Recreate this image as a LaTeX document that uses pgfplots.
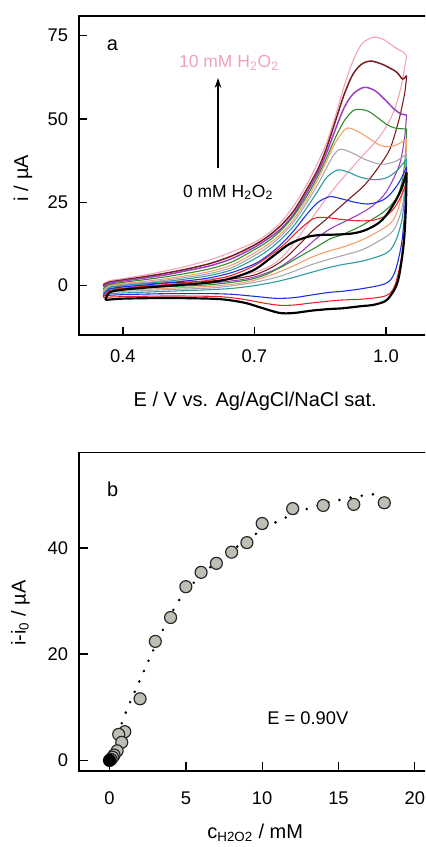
\documentclass[border=0pt]{standalone}
\usepackage{fontspec}
\setmainfont{Liberation Sans}
\usepackage{pgfplots}
\pgfplotsset{compat=1.18}
\usetikzlibrary{arrows.meta}

\definecolor{cvpink}{HTML}{F2A3B8}
\definecolor{cvmaroon}{HTML}{7B1C1C}
\definecolor{cvpurple}{HTML}{9A3FC0}
\definecolor{cvgreen}{HTML}{2E8B2E}
\definecolor{cvorange}{HTML}{F5A06A}
\definecolor{cvgray}{HTML}{A6A6B0}
\definecolor{cvteal}{HTML}{2A9A9E}
\definecolor{cvblue}{HTML}{1F2FE0}
\definecolor{cvred}{HTML}{E8262A}
\definecolor{dotfill}{HTML}{BEBEB4}

\newcommand{\TickFont}{\fontsize{11}{13}\selectfont}
\newcommand{\LabelFont}{\fontsize{12}{14}\selectfont}
\newcommand{\NoteFont}{\fontsize{10.5}{12.5}\selectfont}

\pgfplotsset{
  panel/.style={
    scale only axis,
    anchor=south west,
    font=\NoteFont,
    axis line style={line width=0.9pt},
    tick align=inside,
    xtick pos=bottom,
    ytick pos=left,
    major tick length=5pt,
    tick style={line width=0.8pt, black},
    tick label style={font=\TickFont},
    label style={font=\LabelFont},
    xticklabel style={yshift=-5pt},
    yticklabel style={xshift=-3pt},
    clip=false,
  },
  cv/.style={smooth, tension=0.5, line width=#1},
  cv/.default=0.65pt,
}

\begin{document}
\begin{tikzpicture}
\path[use as bounding box] (0,0) rectangle (255pt,508.2pt);
\clip (0,0) rectangle (255pt,508.2pt);

% ---------- panel a: cyclic voltammograms
\begin{axis}[
  panel,
  at={(47.4pt,307.2pt)},
  width=218.4pt,
  height=191.4pt,
  xmin=0.3, xmax=1.13,
  ymin=-14.8, ymax=80.9,
  xtick={0.4,0.7,1.0},
  xticklabels={0.4,0.7,1.0},
  ytick={0,25,50,75},
  yticklabels={0,25,50,75},
  xlabel={E / V vs. Ag/AgCl/NaCl sat.},
  ylabel={i / µA},
  xlabel style={at={(axis description cs:0.484,-0.207)}, anchor=center},
  ylabel style={at={(axis description cs:-0.154,0.492)}, anchor=center},
]
% pink, 10 mM
\addplot[cvpink, cv] coordinates {(0.355,0.5)(0.37,1.5)(0.40,2.1)(0.45,3.2)(0.50,4.5)(0.55,6.0)(0.60,7.8)(0.65,10.2)(0.70,13.0)(0.73,15.5)(0.76,19.0)(0.79,24.0)(0.82,30.5)(0.845,37.0)(0.865,43.0)(0.885,51.0)(0.905,60.0)(0.925,67.5)(0.945,72.5)(0.97,74.5)(0.995,73.8)(1.02,71.5)(1.04,70.0)(1.047,69.0)};
\addplot[cvpink, cv] coordinates {(1.047,69.0)(1.035,60)(1.02,53)(1.0,47.5)(0.975,43)(0.95,39.5)(0.92,35)(0.89,30.5)(0.86,25.5)(0.83,20)(0.80,14.5)(0.77,9.5)(0.74,6.2)(0.70,4.0)(0.65,2.7)(0.60,2.0)(0.50,1.2)(0.40,0.7)(0.355,0.5)};
% maroon
\addplot[cvmaroon, cv=0.9pt] coordinates {(0.355,0.2)(0.37,1.1)(0.40,1.7)(0.45,2.7)(0.50,3.8)(0.55,5.1)(0.60,6.7)(0.65,9.0)(0.70,12.2)(0.73,14.7)(0.76,18.0)(0.79,22.5)(0.82,29.0)(0.845,35.0)(0.865,41.5)(0.885,49.5)(0.905,57.5)(0.925,63.5)(0.945,66.5)(0.965,67.4)(0.99,66.5)(1.01,65.2)(1.025,64.0)(1.038,62.0)(1.047,63.0)};
\addplot[cvmaroon, cv] coordinates {(1.047,63.0)(1.043,58)(1.03,50)(1.009,41)(0.98,35)(0.95,30)(0.92,26.5)(0.89,23)(0.86,19.5)(0.833,16.5)(0.80,12)(0.77,8.2)(0.74,5.5)(0.70,3.2)(0.65,2.0)(0.60,1.4)(0.50,0.8)(0.40,0.4)(0.355,0.2)};
% purple
\addplot[cvpurple, cv=0.9pt] coordinates {(0.355,-0.3)(0.37,0.8)(0.40,1.4)(0.45,2.3)(0.50,3.3)(0.55,4.6)(0.60,6.0)(0.65,8.2)(0.70,11.5)(0.73,14.0)(0.76,17.0)(0.79,21.5)(0.82,28.0)(0.845,34.0)(0.865,40.0)(0.885,47.0)(0.905,53.5)(0.925,57.5)(0.95,59.5)(0.975,58.5)(1.0,55.5)(1.02,52.8)(1.035,51.5)(1.047,51.2)};
\addplot[cvpurple, cv] coordinates {(1.047,51.2)(1.042,44)(1.03,36)(1.0,28)(0.97,24)(0.94,21.5)(0.91,19.5)(0.872,17)(0.84,14)(0.81,10.5)(0.78,7.5)(0.75,5)(0.71,3)(0.67,1.8)(0.60,0.8)(0.50,0.2)(0.40,-0.2)(0.355,-0.3)};
% green
\addplot[cvgreen, cv] coordinates {(0.355,-1.0)(0.37,0.4)(0.40,1.0)(0.45,1.8)(0.50,2.7)(0.55,3.8)(0.60,5.1)(0.65,7.2)(0.70,10.8)(0.73,13.2)(0.76,16.5)(0.79,21.0)(0.82,27.0)(0.845,33.0)(0.865,38.5)(0.885,44.5)(0.905,49.5)(0.925,52.5)(0.94,52.9)(0.96,52.3)(0.98,50.5)(1.0,48.5)(1.02,47.3)(1.047,47.0)};
\addplot[cvgreen, cv] coordinates {(1.047,47.0)(1.045,40)(1.038,32)(1.025,26.5)(1.0,22.7)(0.97,20)(0.94,17.7)(0.90,15.3)(0.872,14)(0.84,11.5)(0.80,8.5)(0.76,5.5)(0.72,3.0)(0.68,1.6)(0.60,0.3)(0.50,-0.3)(0.40,-0.8)(0.355,-1.0)};
% orange
\addplot[cvorange, cv] coordinates {(0.355,-1.5)(0.37,0.0)(0.40,0.6)(0.45,1.3)(0.50,2.1)(0.55,3.1)(0.60,4.3)(0.65,6.3)(0.70,9.8)(0.73,12.3)(0.76,15.5)(0.79,20.0)(0.82,26.0)(0.845,32.0)(0.865,37.5)(0.885,43.0)(0.91,47.2)(0.935,46.3)(0.96,44.3)(0.985,42.2)(1.005,41.7)(1.025,42.3)(1.047,44.0)};
\addplot[cvorange, cv] coordinates {(1.047,44.0)(1.044,36)(1.036,27)(1.02,20.5)(1.0,17.7)(0.95,14)(0.90,11.5)(0.872,10.5)(0.83,8.5)(0.79,6.0)(0.75,3.8)(0.71,2.0)(0.67,0.8)(0.60,-0.2)(0.50,-0.8)(0.40,-1.3)(0.355,-1.5)};
% gray
\addplot[cvgray, cv] coordinates {(0.355,-2.0)(0.37,-0.3)(0.40,0.3)(0.45,0.9)(0.50,1.7)(0.55,2.6)(0.60,3.7)(0.65,5.5)(0.70,9.0)(0.73,11.5)(0.76,14.8)(0.79,19.2)(0.82,25.0)(0.845,30.5)(0.865,35.5)(0.88,39.0)(0.895,40.9)(0.92,40.0)(0.95,38.0)(0.98,36.6)(1.0,36.5)(1.025,37.5)(1.047,39.5)};
\addplot[cvgray, cv] coordinates {(1.047,39.5)(1.044,31)(1.036,23)(1.02,17.2)(1.0,14.7)(0.95,11)(0.90,9)(0.872,8)(0.83,6.3)(0.79,4.3)(0.75,2.5)(0.70,1.0)(0.65,0.0)(0.60,-0.7)(0.50,-1.2)(0.40,-1.7)(0.355,-2.0)};
% teal
\addplot[cvteal, cv] coordinates {(0.355,-2.5)(0.37,-0.6)(0.40,0.0)(0.45,0.6)(0.50,1.3)(0.55,2.1)(0.60,3.1)(0.65,4.8)(0.70,8.0)(0.73,10.5)(0.76,13.8)(0.79,18.0)(0.82,23.5)(0.845,28.5)(0.865,32.5)(0.89,34.7)(0.915,34.0)(0.94,32.6)(0.97,31.8)(1.0,32.3)(1.025,34.5)(1.047,38.0)};
\addplot[cvteal, cv] coordinates {(1.047,38.0)(1.044,29)(1.036,19.5)(1.02,12.8)(1.0,9.7)(0.95,7.5)(0.90,6.3)(0.872,5.5)(0.83,4.0)(0.79,2.5)(0.75,1.2)(0.70,0.0)(0.65,-0.8)(0.60,-1.2)(0.50,-1.7)(0.40,-2.2)(0.355,-2.5)};
% blue
\addplot[cvblue, cv] coordinates {(0.355,-3.0)(0.37,-1.0)(0.40,-0.4)(0.45,0.2)(0.50,0.8)(0.55,1.5)(0.60,2.4)(0.65,4.0)(0.70,6.5)(0.73,9.0)(0.76,12.3)(0.79,16.5)(0.82,21.5)(0.845,25.0)(0.872,26.7)(0.90,26.0)(0.93,25.0)(0.96,24.5)(0.99,25.5)(1.01,27.5)(1.03,31.0)(1.047,35.7)};
\addplot[cvblue, cv] coordinates {(1.047,35.7)(1.044,25)(1.036,13)(1.02,4)(1.0,0.7)(0.95,-0.8)(0.90,-1.7)(0.872,-2.0)(0.83,-2.8)(0.79,-3.6)(0.75,-3.8)(0.70,-3.2)(0.65,-2.6)(0.60,-2.4)(0.50,-2.4)(0.40,-2.7)(0.355,-3.0)};
% red
\addplot[cvred, cv] coordinates {(0.355,-3.5)(0.37,-1.5)(0.40,-0.8)(0.45,-0.2)(0.50,0.3)(0.55,0.9)(0.60,1.7)(0.65,3.2)(0.70,6.0)(0.74,9.5)(0.77,12.6)(0.80,16.5)(0.833,20.0)(0.86,20.5)(0.89,20.0)(0.93,19.5)(0.97,19.6)(1.0,21.0)(1.02,23.5)(1.035,27.0)(1.047,31.0)};
\addplot[cvred, cv] coordinates {(1.047,31.0)(1.044,21)(1.036,9)(1.02,0.0)(1.0,-3.0)(0.95,-4.0)(0.90,-4.3)(0.872,-4.6)(0.83,-5.2)(0.79,-5.8)(0.758,-5.9)(0.72,-5.2)(0.68,-4.2)(0.64,-3.5)(0.60,-3.2)(0.50,-3.1)(0.40,-3.3)(0.355,-3.5)};
% black, 0 mM
\addplot[black, cv=1.3pt] coordinates {(0.36,-4.3)(0.37,-2.0)(0.40,-1.2)(0.45,-0.6)(0.50,-0.1)(0.55,0.4)(0.60,1.0)(0.65,2.3)(0.70,4.8)(0.74,8.6)(0.78,12.5)(0.82,14.6)(0.85,15.2)(0.88,15.3)(0.92,15.6)(0.95,16.5)(0.98,18.5)(1.0,21.0)(1.02,25.0)(1.035,29.0)(1.047,34.0)};
\addplot[black, cv=1.3pt] coordinates {(1.047,34.0)(1.045,22)(1.04,12)(1.03,3)(1.02,-1)(1.0,-4.5)(0.97,-5.8)(0.947,-6.1)(0.90,-6.8)(0.872,-7.0)(0.83,-7.5)(0.79,-8.2)(0.758,-8.2)(0.72,-6.8)(0.68,-5.2)(0.64,-4.3)(0.60,-3.9)(0.50,-3.7)(0.40,-3.9)(0.36,-4.3)};

\node[font=\LabelFont] at (axis cs:0.376,72.0) {a};
\node[text=cvpink] at (axis cs:0.642,66.8) {10 mM H\textsubscript{2}O\textsubscript{2}};
\draw[-{Stealth[length=6pt,width=4pt]}, line width=0.8pt] (axis cs:0.617,35.2) -- (axis cs:0.617,62.3);
\node at (axis cs:0.64,28.0) {0 mM H\textsubscript{2}O\textsubscript{2}};
\end{axis}

% ---------- panel b: calibration
\begin{axis}[
  panel,
  at={(47.4pt,45.6pt)},
  width=219.8pt,
  height=191.2pt,
  xmin=-2, xmax=22,
  ymin=-2, ymax=58,
  xtick={0,5,10,15,20},
  xticklabels={0,5,10,15,20},
  ytick={0,20,40},
  yticklabels={0,20,40},
  major tick length=5.5pt,
  xticklabel style={yshift=-4pt},
  xlabel={c\textsubscript{H2O2} / mM},
  ylabel={i-i\textsubscript{0} / µA},
  xlabel style={at={(axis description cs:0.481,-0.195)}, anchor=center},
  ylabel style={at={(axis description cs:-0.16,0.496)}, anchor=center},
]
\addplot[only marks, mark=*, mark size=3.6pt,
  mark options={fill=dotfill, draw=black!85, line width=0.7pt}] coordinates {
  (1.0,5.4)(0.6,4.9)(0.8,3.4)(0.5,1.8)(0.3,1.0)(0.2,0.6)(0.1,0.2)
  (2,11.6)(3,22.4)(4,26.9)(5,32.7)(6,35.4)(7,37.1)(8,39.2)(9,41.0)
  (10,44.6)(12,47.4)(14,48.0)(16,48.2)(18,48.5)
};
\addplot[only marks, mark=*, mark size=3.6pt,
  mark options={fill=black, draw=black, line width=0.7pt}] coordinates {(0,0)};
\addplot[black, line width=1.7pt, line cap=round, dash pattern=on 0pt off 6.8pt, smooth]
  coordinates {
  (0.8,7)(1.2,10)(1.6,12.6)(2,15.2)(2.5,18.4)(3,21.6)(3.5,24.6)(4,27.4)
  (4.5,29.9)(5,31.9)(5.5,33.4)(6,34.9)(7,37.3)(8,39.5)(9,41.5)(10,43.4)
  (11,45)(12,46.3)(13,47.4)(14,48.3)(15,49)(16,49.6)(17,50)(17.6,50.2)
};
\node[font=\LabelFont] at (axis cs:0.2,51.1) {b};
\node[font=\fontsize{11}{13}\selectfont] at (axis cs:12.99,7.9) {E = 0.90V};
\end{axis}
\end{tikzpicture}
\end{document}
